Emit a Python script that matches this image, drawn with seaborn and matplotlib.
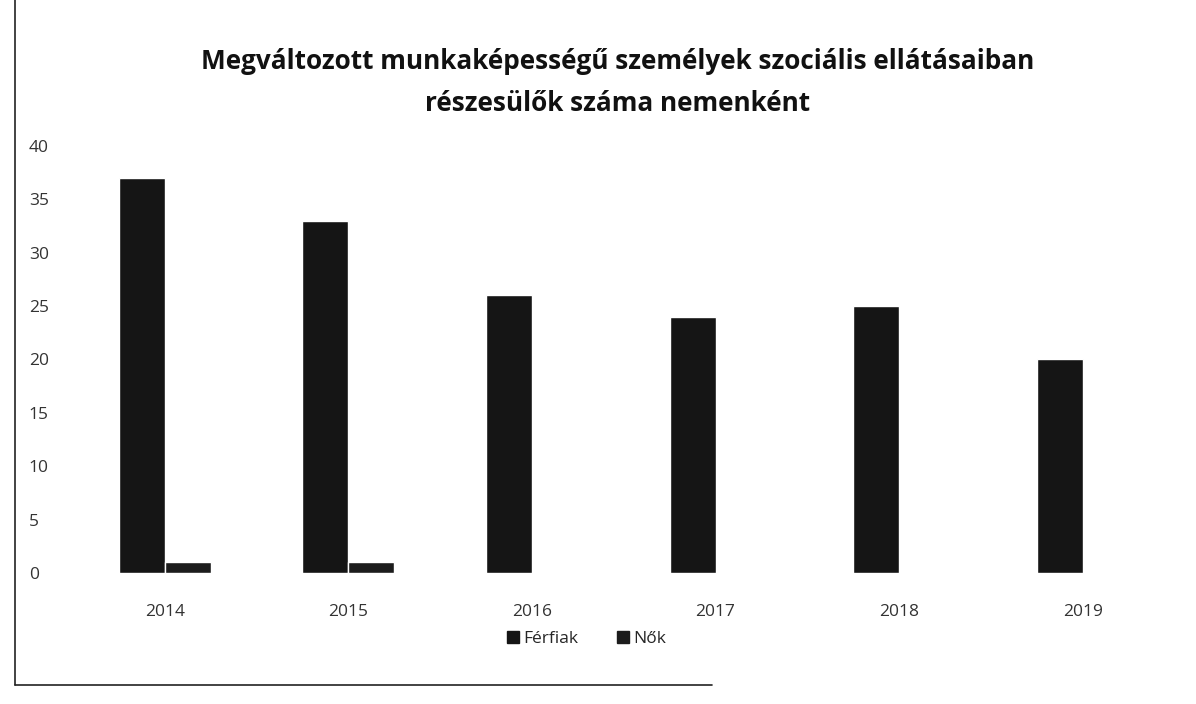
import matplotlib
matplotlib.use("Agg")
import matplotlib.pyplot as plt
import seaborn as sns
import pandas as pd
from matplotlib.lines import Line2D

years = ["2014", "2015", "2016", "2017", "2018", "2019"]
ferfiak = [37, 33, 26, 24, 25, 20]
nok = [1, 1, 0, 0, 0, 0]
series_names = ["Férfiak", "Nők"]
title = "Megváltozott munkaképességű személyek szociális ellátásaiban\nrészesülők száma nemenként"

df = pd.DataFrame({
    "Év": years * 2,
    "Érték": ferfiak + nok,
    "Nem": [series_names[0]] * len(years) + [series_names[1]] * len(years),
})

sns.set_theme(style="white")
plt.rcParams["font.family"] = ["Open Sans", "DejaVu Sans"]

fig = plt.figure(figsize=(11.96, 7.04), dpi=100)
ax = fig.add_axes([0.061, 0.186, 0.921, 0.607])

palette = {series_names[0]: "#151515", series_names[1]: "#1c1c1c"}
sns.barplot(data=df, x="Év", y="Érték", hue="Nem", palette=palette,
            width=0.5, ax=ax, legend=False, saturation=1)

ax.set_ylim(0, 40)
ax.set_yticks(range(0, 41, 5))
ax.set_xlim(-0.5, 5.5)
ax.set_xlabel("")
ax.set_ylabel("")
for s in ax.spines.values():
    s.set_visible(False)
ax.tick_params(axis="y", labelsize=12.5, colors="#333333", pad=4, length=0)
ax.tick_params(axis="x", labelsize=12.5, colors="#333333", pad=22, length=0)
for lbl in ax.get_yticklabels():
    lbl.set_horizontalalignment("left")
    lbl.set_x(-0.035)

fig.text(0.516, 0.883, title, ha="center", va="center", fontsize=18.8,
         fontweight="bold", color="#111111", linespacing=1.7)

handles = [Line2D([0], [0], marker="s", linestyle="", markersize=8,
                  markerfacecolor=palette[n], markeredgecolor=palette[n]) for n in series_names]
fig.legend(handles, series_names, loc="center", bbox_to_anchor=(0.49, 0.093),
           ncol=2, frameon=False, fontsize=12.5, handletextpad=0.2,
           columnspacing=2.2, handlelength=0.8)

# scanned border fragments
fig.add_artist(Line2D([0.0125, 0.0125], [0.027, 1.0], color="#222222", lw=1.2,
                      transform=fig.transFigure))
fig.add_artist(Line2D([0.0125, 0.595], [0.027, 0.027], color="#222222", lw=1.2,
                      transform=fig.transFigure))

fig.savefig("out.png", dpi=100)
